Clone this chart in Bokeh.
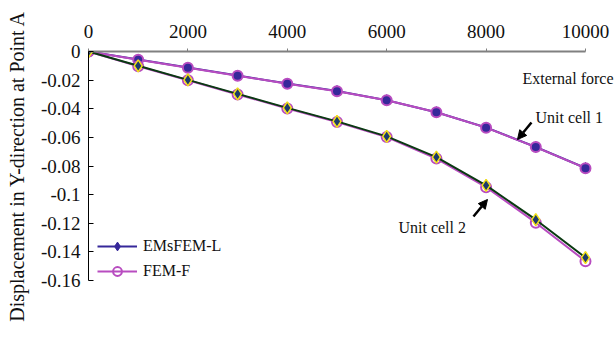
from bokeh.plotting import figure
from bokeh.models import Range1d, FixedTicker, Label, Arrow, NormalHead, Legend, LegendItem, ColumnDataSource
from bokeh.embed import file_html
from bokeh.resources import INLINE

# ---- data ----
force = [0, 1000, 2000, 3000, 4000, 5000, 6000, 7000, 8000, 9000, 10000]
cell1_emsfem = [0, -0.0056, -0.0112, -0.0168, -0.0224, -0.0276, -0.0340, -0.0424, -0.0531, -0.0667, -0.0814]
cell1_fem = [0, -0.0057, -0.0113, -0.0169, -0.0225, -0.0277, -0.0341, -0.0425, -0.0532, -0.0668, -0.0815]
cell2_emsfem = [0, -0.0100, -0.0198, -0.0296, -0.0394, -0.0488, -0.0593, -0.0738, -0.0935, -0.1175, -0.1440]
cell2_fem = [0, -0.0103, -0.0201, -0.0300, -0.0398, -0.0493, -0.0598, -0.0748, -0.0948, -0.1196, -0.1465]
x_ticks = [0, 2000, 4000, 6000, 8000, 10000]
y_ticks = [0, -0.02, -0.04, -0.06, -0.08, -0.1, -0.12, -0.14, -0.16]
y_tick_labels = ["0", "-0.02", "-0.04", "-0.06", "-0.08", "-0.1", "-0.12", "-0.14", "-0.16"]

FONT = "Liberation Serif"
MAGENTA = "#b84cc0"
DARKBLUE = "#36289a"
NAVY = "#1d3b6b"
YELLOW = "#f2e118"
DKGREEN = "#0a3a12"

p = figure(width=615, height=337, output_backend="svg", toolbar_location=None,
           x_range=Range1d(0, 10604), y_range=Range1d(-0.16, 0),
           x_axis_location="above",
           min_border_left=88, min_border_right=0, min_border_top=51, min_border_bottom=57)
p.outline_line_color = None
p.xgrid.visible = False
p.ygrid.visible = False
p.background_fill_color = "white"
p.border_fill_color = "white"

# x axis (top)
xa = p.xaxis[0]
xa.bounds = (0, 10000)
xa.ticker = FixedTicker(ticks=x_ticks)
xa.axis_line_color = "#808080"
xa.axis_line_width = 2
xa.major_tick_line_color = "#808080"
xa.major_tick_line_width = 1
xa.major_tick_out = 3
xa.major_tick_in = 0
xa.minor_tick_line_color = None
xa.major_label_text_font = FONT
xa.major_label_text_font_size = "19px"
xa.major_label_text_color = "#111111"
xa.major_label_standoff = 11

# y axis
ya = p.yaxis[0]
ya.ticker = FixedTicker(ticks=y_ticks)
ya.major_label_overrides = {t: l for t, l in zip(y_ticks, y_tick_labels)}
ya.axis_line_color = "black"
ya.axis_line_width = 1
ya.major_tick_line_color = "black"
ya.major_tick_in = 5
ya.major_tick_out = 0
ya.minor_tick_line_color = None
ya.major_label_text_font = FONT
ya.major_label_text_font_size = "19px"
ya.major_label_text_color = "#111111"
ya.major_label_standoff = 8
ya.axis_label = "Displacement in Y-direction at Point A"
ya.axis_label_text_font = FONT
ya.axis_label_text_font_size = "20px"
ya.axis_label_text_font_style = "normal"
ya.axis_label_text_color = "#111111"
ya.axis_label_standoff = 10

# unit cell 1
src1e = ColumnDataSource(dict(x=force, y=cell1_emsfem))
src1f = ColumnDataSource(dict(x=force, y=cell1_fem))
l1e = p.line("x", "y", source=src1e, line_color=DARKBLUE, line_width=2)
m1e = p.scatter("x", "y", source=src1e, marker="diamond", size=11, fill_color=DARKBLUE, line_color=DARKBLUE)
p.line("x", "y", source=src1f, line_color=MAGENTA, line_width=2)
p.scatter("x", "y", source=src1f, marker="circle", size=10, fill_color=DARKBLUE, line_color=MAGENTA, line_width=2)

# unit cell 2
src2e = ColumnDataSource(dict(x=force, y=cell2_emsfem))
src2f = ColumnDataSource(dict(x=force, y=cell2_fem))
l2f = p.line("x", "y", source=src2f, line_color=MAGENTA, line_width=2)
m2f = p.scatter("x", "y", source=src2f, marker="circle", size=10, fill_color="white", fill_alpha=0,
                line_color=MAGENTA, line_width=2)
p.line("x", "y", source=src2e, line_color=DKGREEN, line_width=2)
p.scatter("x", "y", source=src2e, marker="diamond", size=12, fill_color=NAVY, line_color=YELLOW, line_width=1.5)

legend = Legend(items=[LegendItem(label="EMsFEM-L", renderers=[l1e, m1e]),
                       LegendItem(label="FEM-F", renderers=[l2f, m2f])],
                location=(9, -2), padding=0, margin=0, spacing=3,
                glyph_width=40, glyph_height=22, label_standoff=6,
                label_text_font=FONT, label_text_font_size="16px", label_text_color="#111111",
                background_fill_alpha=0, border_line_color=None)
p.add_layout(legend, "center")

# annotations
for txt, x, y in [("External force", 8732, -0.0189), ("Unit cell 1", 8994, -0.0461), ("Unit cell 2", 6237, -0.1230)]:
    p.add_layout(Label(x=x, y=y, text=txt, text_font=FONT, text_font_size="16px",
                       text_color="#111111", text_baseline="middle", text_align="left"))

for xs, ys, xe, ye in [(8913, -0.0496, 8632, -0.0615), (7746, -0.1153, 8028, -0.1034)]:
    p.add_layout(Arrow(end=NormalHead(size=9, fill_color="black", line_color="black"),
                       x_start=xs, y_start=ys, x_end=xe, y_end=ye,
                       line_color="black", line_width=2.5))

open("out.html", "w").write(file_html(p, INLINE))
